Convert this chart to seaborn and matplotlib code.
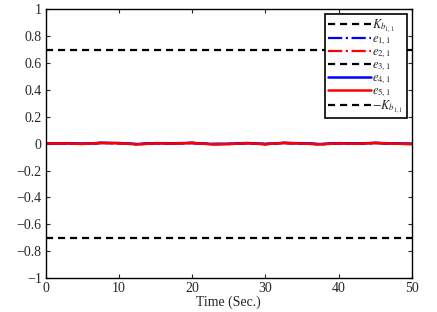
import numpy as np
import pandas as pd
import matplotlib
matplotlib.use("Agg")
import matplotlib.pyplot as plt
import seaborn as sns

# bound and error data
k_bound = 0.7
time = [0, 2.5, 5, 7.5, 10, 12.5, 15, 17.5, 20, 22.5, 25, 27.5, 30,
        32.5, 35, 37.5, 40, 42.5, 45, 47.5, 50]
e11 = [0.0, 0.002, -0.001, 0.006, 0.004, -0.004, 0.003, 0.002, 0.006, -0.003, -0.002,
       0.004, -0.003, 0.006, 0.002, -0.004, 0.003, 0.0, 0.006, 0.001, -0.002]
e21 = [0.0, 0.001, -0.002, 0.005, 0.003, -0.005, 0.002, 0.001, 0.005, -0.004, -0.003,
       0.003, -0.004, 0.005, 0.001, -0.005, 0.002, -0.001, 0.005, 0.0, -0.003]
e31 = [0.0, 0.002, -0.001, 0.005, 0.004, -0.004, 0.003, 0.002, 0.005, -0.003, -0.002,
       0.004, -0.003, 0.005, 0.002, -0.004, 0.003, 0.0, 0.005, 0.001, -0.002]
e41 = [0.0, 0.003, 0.0, 0.006, 0.005, -0.003, 0.004, 0.003, 0.006, -0.002, -0.001,
       0.005, -0.002, 0.006, 0.003, -0.003, 0.004, 0.001, 0.006, 0.002, -0.001]
e51 = [0.0, 0.002, -0.002, 0.005, 0.003, -0.005, 0.002, 0.001, 0.005, -0.004, -0.003,
       0.003, -0.004, 0.005, 0.001, -0.005, 0.002, -0.001, 0.005, 0.0, -0.003]

sns.set_style("white")
plt.rcParams['font.family'] = ['Liberation Serif', 'DejaVu Serif']
plt.rcParams['mathtext.fontset'] = 'stix'

fig, ax = plt.subplots(figsize=(4.37, 3.12), dpi=100)

df = pd.DataFrame({'t': time, 'e11': e11, 'e21': e21, 'e31': e31,
                   'e41': e41, 'e51': e51})
df['kp'] = k_bound
df['km'] = -k_bound

dash = (0, (3.2, 2.2))
sns.lineplot(data=df, x='t', y='kp', ax=ax, color='black', linestyle=dash, lw=1.6,
             label=r'$K_{b_{1,1}}$')
sns.lineplot(data=df, x='t', y='e11', ax=ax, color='blue', linestyle='-.', lw=1.6,
             label=r'$e_{1,1}$')
sns.lineplot(data=df, x='t', y='e21', ax=ax, color='red', linestyle='-.', lw=1.6,
             label=r'$e_{2,1}$')
sns.lineplot(data=df, x='t', y='e31', ax=ax, color='black', linestyle=dash, lw=1.6,
             label=r'$e_{3,1}$')
sns.lineplot(data=df, x='t', y='e41', ax=ax, color='blue', linestyle='-', lw=1.8,
             label=r'$e_{4,1}$')
sns.lineplot(data=df, x='t', y='e51', ax=ax, color='red', linestyle='-', lw=1.8,
             label=r'$e_{5,1}$')
sns.lineplot(data=df, x='t', y='km', ax=ax, color='black', linestyle=dash, lw=1.6,
             label=r'$-K_{b_{1,1}}$')

ax.set_xlim(0, 50)
ax.set_ylim(-1, 1)
ax.set_xticks(np.arange(0, 51, 10))
ax.set_yticks(np.round(np.arange(-1, 1.01, 0.2), 1))
ax.set_yticklabels(['\u22121', '\u22120.8', '\u22120.6', '\u22120.4', '\u22120.2', '0',
                    '0.2', '0.4', '0.6', '0.8', '1'])
ax.set_xlabel('Time (Sec.)', fontsize=10, labelpad=0)
ax.set_ylabel('')
ax.tick_params(direction='in', length=3, labelsize=10, top=True, right=True,
               bottom=True, left=True, pad=3)
for s in ax.spines.values():
    s.set_color('black')
    s.set_linewidth(1.0)

leg = ax.legend(loc='upper right', fontsize=9, frameon=True, fancybox=False,
                framealpha=1, borderpad=0.25, labelspacing=-0.08, handlelength=3.4,
                handletextpad=0.15, borderaxespad=0.4)
leg.get_frame().set_edgecolor('black')
leg.get_frame().set_linewidth(1.2)

fig.subplots_adjust(left=0.105, right=0.942, top=0.970, bottom=0.109)
fig.savefig('out.png', dpi=100)
